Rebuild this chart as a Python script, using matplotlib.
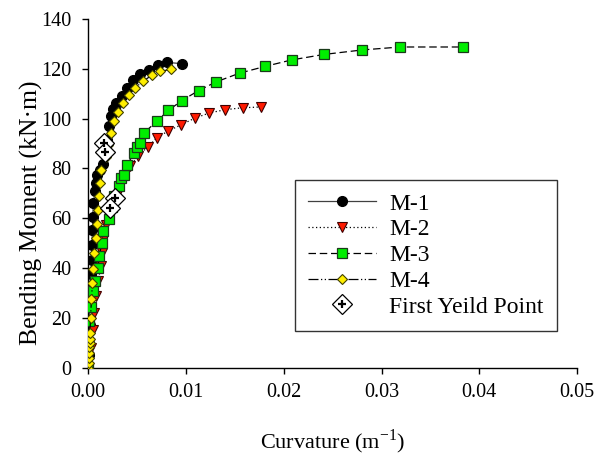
import matplotlib
matplotlib.use("Agg")
import matplotlib.pyplot as plt

plt.rcParams['font.family'] = ['Liberation Serif', 'DejaVu Serif']
plt.rcParams['mathtext.fontset'] = 'custom'
plt.rcParams['mathtext.rm'] = 'Liberation Serif'

# ---- data (curvature in 1/m, moment in kN.m) ----
m1_curv = [0, 0.00005, 0.0001, 0.00015, 0.00017, 0.0002, 0.00028, 0.00036, 0.0004,
           0.00044, 0.00048, 0.00054, 0.00072, 0.00082, 0.00095, 0.0012, 0.0015,
           0.0017, 0.0019, 0.0021, 0.0023, 0.0026, 0.0029, 0.0035, 0.0040, 0.0046,
           0.0053, 0.0062, 0.0071, 0.0081, 0.0096]
m1_mom = [0, 5, 10, 17, 24.5, 31.5, 37.6, 43.2, 49.3,
          55.3, 60.7, 66.0, 71.1, 74.1, 77.2, 79.5, 81.9,
          86.5, 91.5, 96.9, 100.9, 103.9, 106.3, 109.2, 112.3, 115.5,
          117.9, 119.7, 121.4, 122.6, 122.1]

m2_curv = [0, 0.0003, 0.00054, 0.00065, 0.00082, 0.00106, 0.0013, 0.0014, 0.00157,
           0.0018, 0.0024, 0.0028, 0.0032, 0.0037, 0.0043, 0.0051, 0.0061, 0.0070,
           0.0082, 0.0095, 0.0109, 0.0124, 0.0140, 0.0158, 0.0177]
m2_mom = [0, 8, 15.1, 21.8, 28.9, 34.8, 41.0, 46.2, 51.3,
          57.3, 62.5, 67.0, 71.0, 76.0, 80.8, 85.1, 88.6, 92.2,
          95.1, 97.5, 100.2, 102.3, 103.6, 104.4, 104.7]

m3_curv = [0, 0.00003, 0.00005, 0.0003, 0.00054, 0.0007, 0.001, 0.00116, 0.0014,
           0.00157, 0.0021, 0.0024, 0.0027, 0.0032, 0.0034, 0.0037, 0.0040, 0.0047,
           0.0050, 0.0053, 0.0057, 0.0070, 0.0082, 0.0096, 0.0113, 0.0131, 0.0155,
           0.0181, 0.0208, 0.0241, 0.0280, 0.0319, 0.0383]
m3_mom = [0, 10, 18.8, 24.2, 30.9, 35.0, 39.9, 44.8, 50.2,
          54.9, 59.7, 64.5, 69.0, 73.1, 76.1, 77.2, 81.5, 86.2,
          88.8, 90.4, 94.2, 98.9, 103.3, 107.3, 111.3, 114.8, 118.3,
          121.0, 123.6, 125.8, 127.6, 128.8, 128.8]

m4_curv = [0, 0.00005, 0.0001, 0.00012, 0.00014, 0.00015, 0.00017, 0.00019, 0.00025,
           0.00035, 0.00045, 0.0005, 0.00062, 0.0008, 0.0009, 0.00097, 0.0011, 0.0012,
           0.0013, 0.0018, 0.0020, 0.0023, 0.0027, 0.0031, 0.0036, 0.0042, 0.0048,
           0.0056, 0.0065, 0.0074, 0.0085]
m4_mom = [0, 1.7, 3.7, 5.7, 8.1, 10.0, 11.7, 13.8, 19.8,
          27.6, 34.1, 39.6, 46.2, 52.0, 57.7, 63.4, 69.0, 74.1,
          79.4, 84.5, 89.5, 94.2, 99.2, 102.6, 106.3, 109.6, 112.3,
          115.0, 117.4, 119.0, 119.9]

yield_curv = [0.00164, 0.00174, 0.00277, 0.00225]
yield_mom = [90.4, 86.8, 68.1, 64.3]

labels = ['M-1', 'M-2', 'M-3', 'M-4', 'First Yeild Point']

fig = plt.figure(figsize=(5.95, 4.55), dpi=100)
ax = fig.add_axes([0.148, 0.192, 0.822, 0.766])

l1, = ax.plot(m1_curv, m1_mom, color='0.25', lw=0.9, ls='-', marker='o', ms=7,
              mfc='black', mec='black', zorder=3)
l2, = ax.plot(m2_curv, m2_mom, color='black', lw=0.9, ls=(0, (1, 2)), marker='v',
              ms=7, mfc='#ff1a00', mec='#400000', mew=0.8, zorder=3)
l3, = ax.plot(m3_curv, m3_mom, color='black', lw=0.9, ls=(0, (6, 3)), marker='s',
              ms=6.5, mfc='#00ee00', mec='#1a3a1a', mew=0.9, zorder=3)
l4, = ax.plot(m4_curv, m4_mom, color='black', lw=0.9, ls=(0, (8, 2, 1, 2, 1, 2)),
              marker='D', ms=5.5, mfc='#ffee00', mec='#404000', mew=0.8, zorder=4)
y1, = ax.plot(yield_curv, yield_mom, ls='none', marker='D', ms=10, mfc='white',
              mec='black', mew=0.9, zorder=5)
y2, = ax.plot(yield_curv, yield_mom, ls='none', marker='+', ms=6, mec='black',
              mew=1.6, zorder=6)

ax.set_xlim(0, 0.05)
ax.set_ylim(0, 140)
ax.set_xticks([0, 0.01, 0.02, 0.03, 0.04, 0.05])
ax.set_xticklabels(['0.00', '0.01', '0.02', '0.03', '0.04', '0.05'])
ax.set_yticks(range(0, 141, 20))
ax.spines['top'].set_visible(False)
ax.spines['right'].set_visible(False)
for s in ('left', 'bottom'):
    ax.spines[s].set_linewidth(1.0)
ax.tick_params(labelsize=14.5, length=4, width=1, direction='out')
ax.tick_params(axis='x', pad=7)
ax.tick_params(axis='y', pad=8)

ax.set_xlabel('Curvature (m$^{-1}$)', fontsize=16)
ax.xaxis.set_label_coords(0.5, -0.172)
ax.set_ylabel('Bending Moment (kN\u00b7m)', fontsize=18.5)
ax.yaxis.set_label_coords(-0.092, 0.443)

leg = ax.legend([l1, l2, l3, l4, (y1, y2)], labels, loc='upper left',
                bbox_to_anchor=(0.423, 0.538), fontsize=17, handlelength=2.9,
                frameon=True, fancybox=False, edgecolor='black', borderpad=0.55,
                labelspacing=0.18, handletextpad=0.55, borderaxespad=0)
leg.get_frame().set_linewidth(1.0)

fig.savefig('out.png', dpi=100)
